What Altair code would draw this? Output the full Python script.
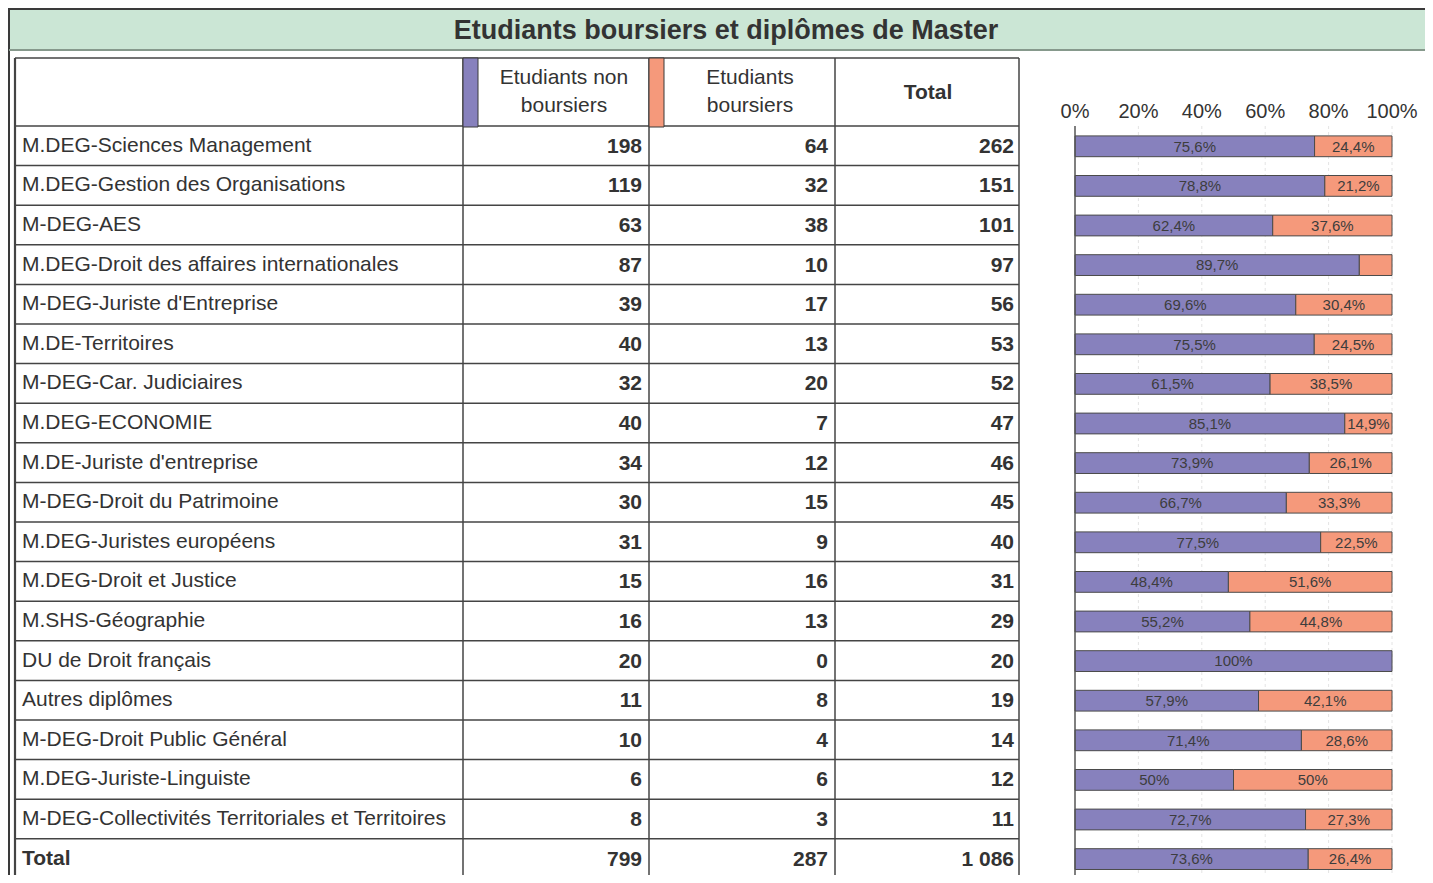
import altair as alt
import pandas as pd

# ---------------- data ----------------
title_text = "Etudiants boursiers et diplômes de Master"
header_non = ["Etudiants non", "boursiers"]
header_bours = ["Etudiants", "boursiers"]
header_total = "Total"

categories = [
    "M.DEG-Sciences Management",
    "M.DEG-Gestion des Organisations",
    "M-DEG-AES",
    "M.DEG-Droit des affaires internationales",
    "M-DEG-Juriste d'Entreprise",
    "M.DE-Territoires",
    "M-DEG-Car. Judiciaires",
    "M.DEG-ECONOMIE",
    "M.DE-Juriste d'entreprise",
    "M-DEG-Droit du Patrimoine",
    "M.DEG-Juristes européens",
    "M.DEG-Droit et Justice",
    "M.SHS-Géographie",
    "DU de Droit français",
    "Autres diplômes",
    "M-DEG-Droit Public Général",
    "M.DEG-Juriste-Linguiste",
    "M-DEG-Collectivités Territoriales et Territoires",
    "Total",
]
non_boursiers = [198, 119, 63, 87, 39, 40, 32, 40, 34, 30, 31, 15, 16, 20, 11, 10, 6, 8, 799]
boursiers = [64, 32, 38, 10, 17, 13, 20, 7, 12, 15, 9, 16, 13, 0, 8, 4, 6, 3, 287]
totals = [262, 151, 101, 97, 56, 53, 52, 47, 46, 45, 40, 31, 29, 20, 19, 14, 12, 11, 1086]

tick_values = [0, 0.2, 0.4, 0.6, 0.8, 1.0]
tick_labels = ["0%", "20%", "40%", "60%", "80%", "100%"]

series_colors = ["#8781bd", "#f5997b"]

FONT = "Liberation Sans"
TXT = "#333333"
LINE = "#444444"
W, H = 1417, 867
ROW_H = 39.6


def fr_int(n):
    return f"{n:,}".replace(",", " ")


def fr_pct(p):
    s = f"{p * 100:.1f}".replace(".", ",")
    if s.endswith(",0"):
        s = s[:-2]
    return s + "%"


n_rows = len(categories)
rows = pd.DataFrame({
    "row": list(range(n_rows)),
    "label": categories,
    "non_txt": [fr_int(v) for v in non_boursiers],
    "bours_txt": [fr_int(v) for v in boursiers],
    "tot_txt": [fr_int(v) for v in totals],
})
rows["yc"] = rows["row"] + 0.5

seg = []
for i in range(n_rows):
    p = non_boursiers[i] / totals[i]
    q = boursiers[i] / totals[i]
    seg.append({"row": i, "series": 0, "start": 0.0, "end": p, "pct": p,
                "txt": fr_pct(p)})
    if boursiers[i] > 0:
        seg.append({"row": i, "series": 1, "start": p, "end": 1.0, "pct": q,
                    "txt": fr_pct(q)})
segs = pd.DataFrame(seg)
segs["y0"] = segs["row"] + 0.25
segs["y1"] = segs["row"] + 0.775
segs["yc"] = segs["row"] + 0.52
segs["mid"] = (segs["start"] + segs["end"]) / 2

ticks = pd.DataFrame({"v": tick_values, "lab": tick_labels})
bounds = pd.DataFrame({"b": list(range(n_rows + 1))})
one = pd.DataFrame({"k": [0]})

# ---------------- scales ----------------
ys = alt.Scale(domain=[0, n_rows], range=[118, 118 + ROW_H * n_rows])
xs = alt.Scale(domain=[0, 1], range=[1067, 1384])

layers = []

# outer frame + title band
layers.append(alt.Chart(one).mark_rect(color="#cbe6d5").encode(
    x=alt.value(1), x2=alt.value(W), y=alt.value(1), y2=alt.value(42)))
layers.append(alt.Chart(one).mark_rule(color="#3a3a3a", strokeWidth=2).encode(
    x=alt.value(0), x2=alt.value(W), y=alt.value(1)))
layers.append(alt.Chart(one).mark_rule(color="#3a3a3a", strokeWidth=2).encode(
    x=alt.value(1), y=alt.value(0), y2=alt.value(H)))
layers.append(alt.Chart(one).mark_rule(color="#86998c", strokeWidth=2).encode(
    x=alt.value(1), x2=alt.value(W), y=alt.value(42)))
layers.append(alt.Chart(one).mark_text(font=FONT, fontSize=27, fontWeight="bold",
                                        color=TXT, baseline="middle").encode(
    x=alt.value(718), y=alt.value(23), text=alt.value(title_text)))

# table lines
layers.append(alt.Chart(one).mark_rule(color=LINE, strokeWidth=1.5).encode(
    x=alt.value(7), x2=alt.value(1011), y=alt.value(50)))
layers.append(alt.Chart(bounds).mark_rule(color=LINE, strokeWidth=1.5).encode(
    y=alt.Y("b:Q", scale=ys, axis=None), x=alt.value(7), x2=alt.value(1011)))
for xv, w in [(7, 2.2), (455, 1.5), (641, 1.5), (827, 1.5), (1011, 1.5)]:
    layers.append(alt.Chart(one).mark_rule(color=LINE, strokeWidth=w).encode(
        x=alt.value(xv), y=alt.value(50), y2=alt.value(H)))

# swatches in header
for xv, c in [(455, series_colors[0]), (641, series_colors[1])]:
    layers.append(alt.Chart(one).mark_rect(color=c, stroke="#3a3a3a", strokeWidth=1).encode(
        x=alt.value(xv), x2=alt.value(xv + 15), y=alt.value(50), y2=alt.value(119)))

# header text
layers.append(alt.Chart(one).mark_text(font=FONT, fontSize=21, color=TXT, baseline="middle",
                                        lineHeight=28, lineBreak="\n").encode(
    x=alt.value(556), y=alt.value(70), text=alt.value("\n".join(header_non))))
layers.append(alt.Chart(one).mark_text(font=FONT, fontSize=21, color=TXT, baseline="middle",
                                        lineHeight=28, lineBreak="\n").encode(
    x=alt.value(742), y=alt.value(70), text=alt.value("\n".join(header_bours))))
layers.append(alt.Chart(one).mark_text(font=FONT, fontSize=21, fontWeight="bold", color=TXT,
                                        baseline="middle").encode(
    x=alt.value(920), y=alt.value(85), text=alt.value(header_total)))

# row labels
body = alt.Chart(rows)
layers.append(body.transform_filter(f"datum.row < {n_rows - 1}").mark_text(
    font=FONT, fontSize=21, color=TXT, align="left", baseline="middle").encode(
    x=alt.value(14), y=alt.Y("yc:Q", scale=ys, axis=None), text="label:N"))
layers.append(body.transform_filter(f"datum.row == {n_rows - 1}").mark_text(
    font=FONT, fontSize=21, fontWeight="bold", color=TXT, align="left", baseline="middle").encode(
    x=alt.value(14), y=alt.Y("yc:Q", scale=ys, axis=None), text="label:N"))
for xv, fld in [(634, "non_txt"), (820, "bours_txt"), (1006, "tot_txt")]:
    layers.append(body.mark_text(font=FONT, fontSize=21, fontWeight="bold", color=TXT,
                                 align="right", baseline="middle", dy=1).encode(
        x=alt.value(xv), y=alt.Y("yc:Q", scale=ys, axis=None), text=f"{fld}:N"))

# bar chart grid + axis
tk = alt.Chart(ticks)
layers.append(tk.transform_filter("datum.v > 0").mark_rule(
    color="#e4e4e4", strokeWidth=1, strokeDash=[3, 3]).encode(
    x=alt.X("v:Q", scale=xs, axis=None), y=alt.value(118), y2=alt.value(H)))
layers.append(tk.mark_text(font=FONT, fontSize=20, color=TXT, baseline="middle").encode(
    x=alt.X("v:Q", scale=xs, axis=None), y=alt.value(104), text="lab:N"))

# bars
sg = alt.Chart(segs)
layers.append(sg.mark_rect(stroke="#4a4a4a", strokeWidth=1).encode(
    x=alt.X("start:Q", scale=xs, axis=None), x2="end:Q",
    y=alt.Y("y0:Q", scale=ys, axis=None), y2="y1:Q",
    color=alt.Color("series:N", scale=alt.Scale(domain=[0, 1], range=series_colors), legend=None)))
layers.append(sg.transform_filter("datum.pct >= 0.12").mark_text(
    font=FONT, fontSize=15, color="#3d3d3d", baseline="middle").encode(
    x=alt.X("mid:Q", scale=xs, axis=None), y=alt.Y("yc:Q", scale=ys, axis=None), text="txt:N"))

layers.append(tk.transform_filter("datum.v == 0").mark_rule(color="#555555", strokeWidth=1.5).encode(
    x=alt.X("v:Q", scale=xs, axis=None), y=alt.value(118), y2=alt.value(H)))

chart = alt.layer(*layers).properties(
    width=W, height=H, padding=0,
    autosize=alt.AutoSizeParams(type="none"),
    background="white",
).configure_view(stroke=None)

chart.save("out.html", embed_options={"renderer": "svg", "actions": False})
